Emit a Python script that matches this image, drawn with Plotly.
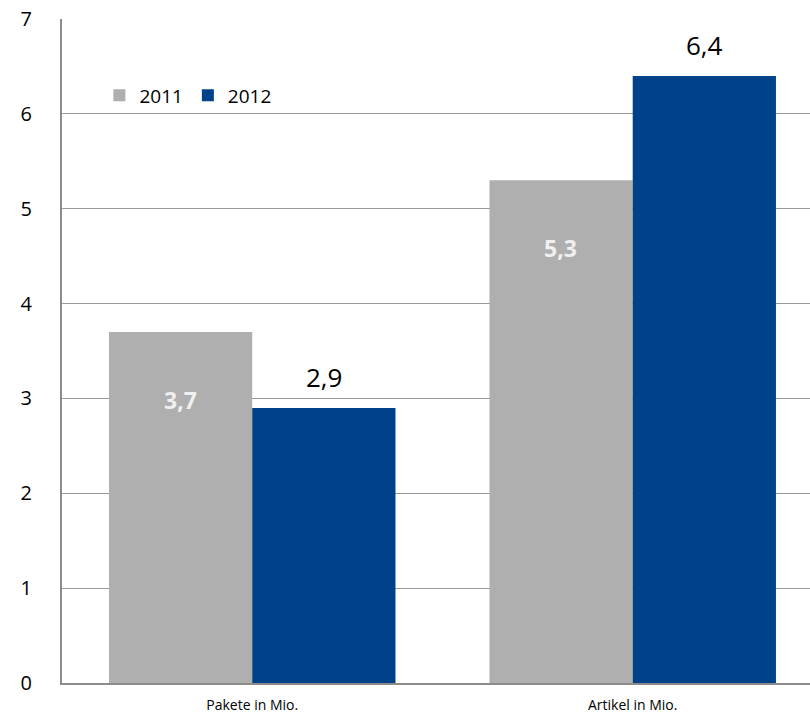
import plotly.graph_objects as go

# Daten
kategorien = ["Pakete in Mio.", "Artikel in Mio."]
werte_2011 = [3.7, 5.3]
werte_2012 = [2.9, 6.4]
jahre = ["2011", "2012"]

farbe_2011 = "#afafaf"
farbe_2012 = "#00428a"

def fmt(v):
    return f"{v:.1f}".replace(".", ",")

fig = go.Figure()

fig.add_trace(go.Bar(x=kategorien, y=werte_2011, name=jahre[0],
                     marker=dict(color=farbe_2011, line=dict(width=0))))
fig.add_trace(go.Bar(x=kategorien, y=werte_2012, name=jahre[1],
                     marker=dict(color=farbe_2012, line=dict(width=0))))

# Beschriftungen: 2011 innen (hell, fett), 2012 ueber dem Balken
for k, v in zip(kategorien, werte_2011):
    fig.add_annotation(x=k, y=v, xref="x", yref="y", text=fmt(v), showarrow=False,
                       xshift=-72, yshift=-68, yanchor="middle",
                       font=dict(family="Open Sans", size=23, color="#f0f0f0", weight="bold"))
for k, v in zip(kategorien, werte_2012):
    fig.add_annotation(x=k, y=v, xref="x", yref="y", text=fmt(v), showarrow=False,
                       xshift=72, yshift=31, yanchor="middle",
                       font=dict(family="Open Sans", size=26, color="#000000"))

fig.update_layout(
    width=810, height=720,
    margin=dict(l=62, r=0, t=19, b=37),
    plot_bgcolor="white", paper_bgcolor="white",
    barmode="group", bargap=0.247, bargroupgap=0,
    font=dict(family="Open Sans", color="#000000"),
    showlegend=True,
    legend=dict(orientation="h", x=0.05, y=0.885, xanchor="left", yanchor="middle",
                font=dict(size=19), bgcolor="rgba(0,0,0,0)", itemwidth=30,
                tracegroupgap=0),
    xaxis=dict(range=[-0.5, 1.466], showgrid=False, showline=True, linecolor="#8c8c8c",
               linewidth=2, ticks="", tickfont=dict(size=14), ticklabelstandoff=8,
               automargin=False),
    yaxis=dict(range=[0, 7], dtick=1, showgrid=True, gridcolor="#9a9a9a", gridwidth=1,
               showline=True, linecolor="#8c8c8c", linewidth=2, ticks="",
               tickfont=dict(size=20), ticklabelstandoff=24, zeroline=False,
               automargin=False),
)

fig.write_html("out.html", config={"displayModeBar": False},
               post_script="document.body.style.margin='0';")
